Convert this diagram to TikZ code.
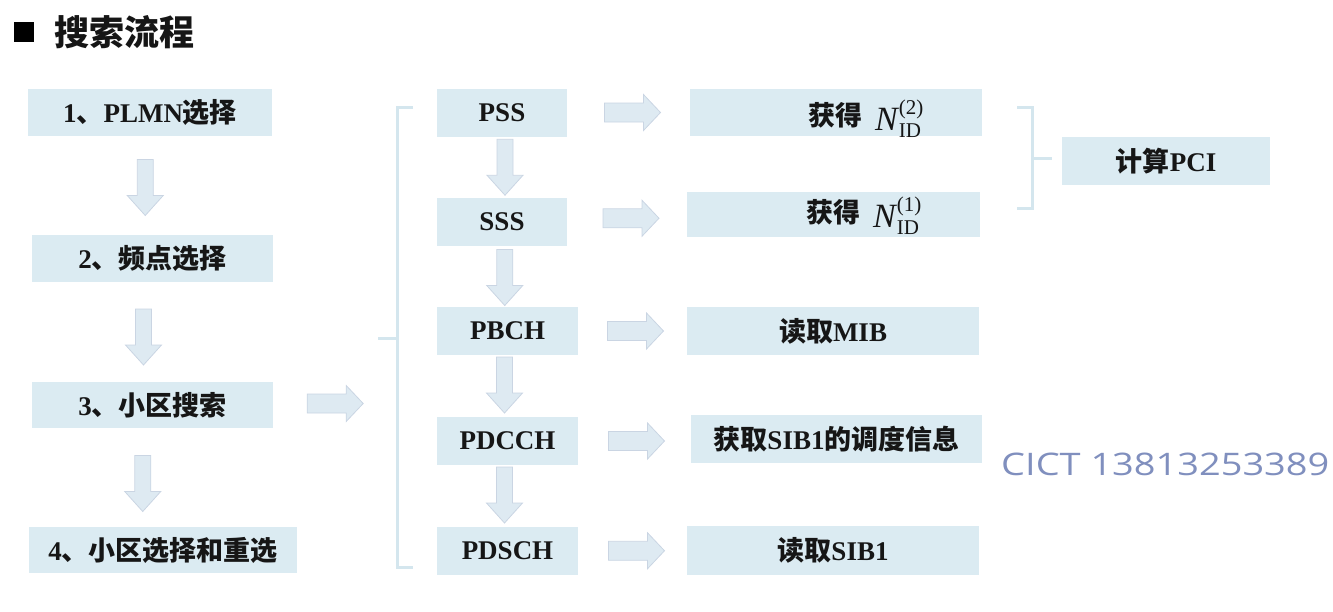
\documentclass[tikz,border=0pt]{standalone}
\usepackage{fontspec}
\setmainfont{Liberation Serif}
\newfontfamily\cjk{Noto Sans CJK SC}
\newfontfamily\wmfont{Open Sans}
\usetikzlibrary{calc}
\definecolor{boxblue}{RGB}{219,235,242}
\definecolor{arrfill}{RGB}{222,234,242}
\definecolor{arrline}{RGB}{202,213,227}
\definecolor{brk}{RGB}{212,230,238}
\definecolor{wm}{RGB}{128,143,190}
\definecolor{txt}{RGB}{22,22,22}
\newcommand\zh[1]{{\cjk\bfseries\fontsize{27}{30}\selectfont #1}}
\newcommand\nid[1]{{\mdseries\itshape\fontsize{34}{34}\selectfont N}\kern1pt\rlap{\raisebox{16pt}{\mdseries\fontsize{21}{21}\selectfont(#1)}}\raisebox{-7pt}{\mdseries\fontsize{21}{21}\selectfont ID}}
\tikzset{
  box/.style={fill=boxblue, inner sep=0pt, text=txt, font=\bfseries\fontsize{27}{30}\selectfont},
  arr/.style={fill=arrfill, draw=arrline, line width=0.8pt, line join=miter},
  downarr/.pic={\path[arr] (-8,-28) -- (-8,8) -- (-18,8) -- (0,28) -- (18,8) -- (8,8) -- (8,-28) -- cycle;},
  rightarr/.pic={\path[arr] (-28,-9.5) -- (11,-9.5) -- (11,-18) -- (28,0) -- (11,18) -- (11,9.5) -- (-28,9.5) -- cycle;},
  brace/.style={draw=brk, line width=3pt}
}
\begin{document}
\begin{tikzpicture}[x=1pt,y=-1pt]
\useasboundingbox (0,0) rectangle (1333,611);
% title
\fill[black] (14,22) rectangle (34,42);
\node[anchor=west, inner sep=0pt, text=txt] (title) at (54,32) {{\cjk\bfseries\fontsize{35}{40}\selectfont 搜索流程}};
% left column
\node[box, minimum width=244pt, minimum height=47pt] (b1) at (150,112.5) {1\zh{、}PLMN\zh{选择}};
\node[box, minimum width=241pt, minimum height=47pt] (b2) at (152.5,258.5) {2\zh{、频点选择}};
\node[box, minimum width=241pt, minimum height=46pt] (b3) at (152.5,405) {3\zh{、小区搜索}};
\node[box, minimum width=268pt, minimum height=46pt] (b4) at (163,550) {4\zh{、小区选择和重选}};
% middle column
\node[box, minimum width=130pt, minimum height=48pt] (m1) at (502,112.5) {PSS};
\node[box, minimum width=130pt, minimum height=48pt] (m2) at (502,222) {SSS};
\node[box, minimum width=141pt, minimum height=48pt] (m3) at (507.5,331) {PBCH};
\node[box, minimum width=141pt, minimum height=48pt] (m4) at (507.5,441) {PDCCH};
\node[box, minimum width=141pt, minimum height=48pt] (m5) at (507.5,551) {PDSCH};
% right column
\node[box, minimum width=292pt, minimum height=47pt] (r1) at (836,112.5) {};
\node[box, minimum width=293pt, minimum height=45pt] (r2) at (833.5,214.5) {};
\node[box, minimum width=292pt, minimum height=48pt] (r3) at (833,331) {\zh{读取}MIB};
\node[box, minimum width=291pt, minimum height=48pt] (r4) at (836.5,439) {\zh{获取}SIB1\zh{的调度信息}};
\node[box, minimum width=292pt, minimum height=49pt] (r5) at (833,550.5) {\zh{读取}SIB1};
\node[anchor=base west, inner sep=0pt, text=txt] (t1) at (808,130) {\raisebox{5pt}{\zh{获得}}\hspace{13pt}\nid{2}};
\node[anchor=base west, inner sep=0pt, text=txt] (t2) at (806,227) {\raisebox{5pt}{\zh{获得}}\hspace{13pt}\nid{1}};
% PCI
\node[box, minimum width=208pt, minimum height=48pt] (pci) at (1166,161) {\zh{计算}PCI};
% left column arrows
\pic at ($(b1.south)!0.5!(b2.north)+(-6,2)$) {downarr};
\pic at ($(b2.south)!0.5!(b3.north)+(-9,5)$) {downarr};
\pic at ($(b3.south)!0.5!(b4.north)+(-15,6)$) {downarr};
% middle arrows
\pic at ($(m1.south)!0.5!(m2.north)+(3,0)$) {downarr};
\pic at ($(m2.south)!0.5!(m3.north)+(0,1)$) {downarr};
\pic at ($(m3.south)!0.5!(m4.north)+(-3,-1)$) {downarr};
\pic at ($(m4.south)!0.5!(m5.north)+(-3,-1)$) {downarr};
% right arrows
\pic at ($(m1.east)!0.5!(r1.west)+(4,0)$) {rightarr};
\pic at ($(m2.east)!0.5!(r2.west)+(4,0)$) {rightarr};
\pic at ($(m3.east)!0.5!(r3.west)+(3,0)$) {rightarr};
\pic at ($(m4.east)!0.5!(r4.west)+(2,1)$) {rightarr};
\pic at ($(m5.east)!0.5!(r5.west)+(4,0)$) {rightarr};
% arrow from cell search
\pic at ($(b3.east)+(62,-1.5)$) {rightarr};
% left brace
\coordinate (lbt) at (413,107);
\coordinate (lbb) at (413,567);
\coordinate (lbm) at (378,338);
\draw[brace] (lbt) -- (397,107) -- (397,567) -- (lbb);
\draw[brace] (lbm) -- (397,338);
% right brace
\coordinate (rbt) at (1017,107);
\coordinate (rbb) at (1017,208);
\coordinate (rbm) at (1052,158);
\draw[brace] (rbt) -- (1032,107) -- (1032,208) -- (rbb);
\draw[brace] (1032,158) -- (rbm);
% watermark
\node[anchor=base west, inner sep=0pt, text=wm] (wmk) at (1001,475) {\resizebox{328pt}{22.5pt}{\wmfont CICT 13813253389}};
\end{tikzpicture}
\end{document}
